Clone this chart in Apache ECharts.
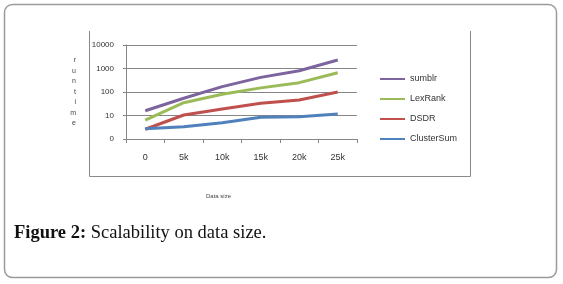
<!DOCTYPE html>
<html>
<head>
<meta charset="utf-8">
<script src="https://cdn.jsdelivr.net/npm/echarts@6/dist/echarts.min.js"></script>
<style>
  html, body { margin: 0; padding: 0; background: #fff; }
  #chart { width: 563px; height: 284px; }
</style>
</head>
<body>
<div id="chart"></div>
<script>
// data (log scale)
var categories = ['0', '5k', '10k', '15k', '20k', '25k'];
var sumblr     = [16, 54, 170, 420, 800, 2300];
var lexRank    = [6.4, 35, 80, 150, 250, 660];
var dsdr       = [2.6, 10.5, 19, 33, 46, 100];
var clusterSum = [2.7, 3.3, 4.9, 8.4, 8.9, 11.5];
var yTicks     = [1, 10, 100, 1000, 10000];

var myChart = echarts.init(document.getElementById('chart'));

function line(name, data, color) {
    return {
        name: name,
        type: 'line',
        data: data,
        showSymbol: false,
        symbol: 'none',
        lineStyle: { color: color, width: 3 },
        itemStyle: { color: color },
        animation: false
    };
}

var option = {
    backgroundColor: '#fff',
    grid: { left: 126, right: 206, top: 45, bottom: 145 },
    legend: {
        orient: 'vertical',
        left: 375,
        top: 68,
        icon: 'rect',
        itemWidth: 25,
        itemHeight: 2,
        itemGap: 8,
        textStyle: { fontFamily: 'Liberation Sans', fontSize: 9, color: '#333', lineHeight: 12 },
        data: ['sumblr', 'LexRank', 'DSDR', 'ClusterSum']
    },
    xAxis: {
        type: 'category',
        data: categories,
        boundaryGap: true,
        axisLine: { lineStyle: { color: '#868686', width: 1 } },
        axisTick: { show: true, length: 4, lineStyle: { color: '#868686' } },
        axisLabel: { margin: 14, fontFamily: 'Liberation Sans', fontSize: 9, color: '#333' }
    },
    yAxis: {
        type: 'log',
        logBase: 10,
        min: 1,
        max: 10000,
        name: 'r\nu\nn\nt\ni\nm\ne',
        nameLocation: 'middle',
        nameRotate: 0,
        nameGap: 50,
        nameTextStyle: { fontFamily: 'Liberation Sans', fontSize: 7, color: '#444', lineHeight: 10.5 },
        axisLine: { show: true, lineStyle: { color: '#868686', width: 1 } },
        axisTick: { show: true, length: 3, lineStyle: { color: '#868686' } },
        splitLine: { lineStyle: { color: '#868686', width: 1 } },
        axisLabel: {
            margin: 12,
            fontFamily: 'Liberation Sans',
            fontSize: 8,
            color: '#333',
            formatter: function (v) {
                return yTicks.indexOf(v) === 0 ? '0' : String(v);
            }
        }
    },
    graphic: [
        {   // outer rounded frame
            type: 'rect',
            shape: { x: 4.5, y: 4.5, width: 552, height: 273, r: 8 },
            style: { fill: 'none', stroke: '#9a9a9a', lineWidth: 1.5 },
            z: -1
        },
        {   // chart area border (top edge cut off)
            type: 'polyline',
            shape: { points: [[89.5, 31], [89.5, 176.5], [470.5, 176.5], [470.5, 31]] },
            style: { fill: 'none', stroke: '#8a8a8a', lineWidth: 1 }
        },
        {
            type: 'text',
            left: 206,
            top: 193,
            style: { text: 'Data size', font: '6px "Liberation Sans"', fill: '#444' }
        },
        {
            type: 'text',
            left: 14,
            top: 224,
            style: {
                text: '{b|Figure 2:} Scalability on data size.',
                font: '18.5px "Liberation Serif"',
                fill: '#111',
                rich: {
                    b: { fontWeight: 'bold', fontFamily: 'Liberation Serif', fontSize: 18.5, fill: '#111' }
                }
            }
        }
    ],
    series: [
        line('sumblr', sumblr, '#7e649e'),
        line('LexRank', lexRank, '#9bbb59'),
        line('DSDR', dsdr, '#c0504d'),
        line('ClusterSum', clusterSum, '#4f81bd')
    ]
};
myChart.setOption(option);
</script>
</body>
</html>
